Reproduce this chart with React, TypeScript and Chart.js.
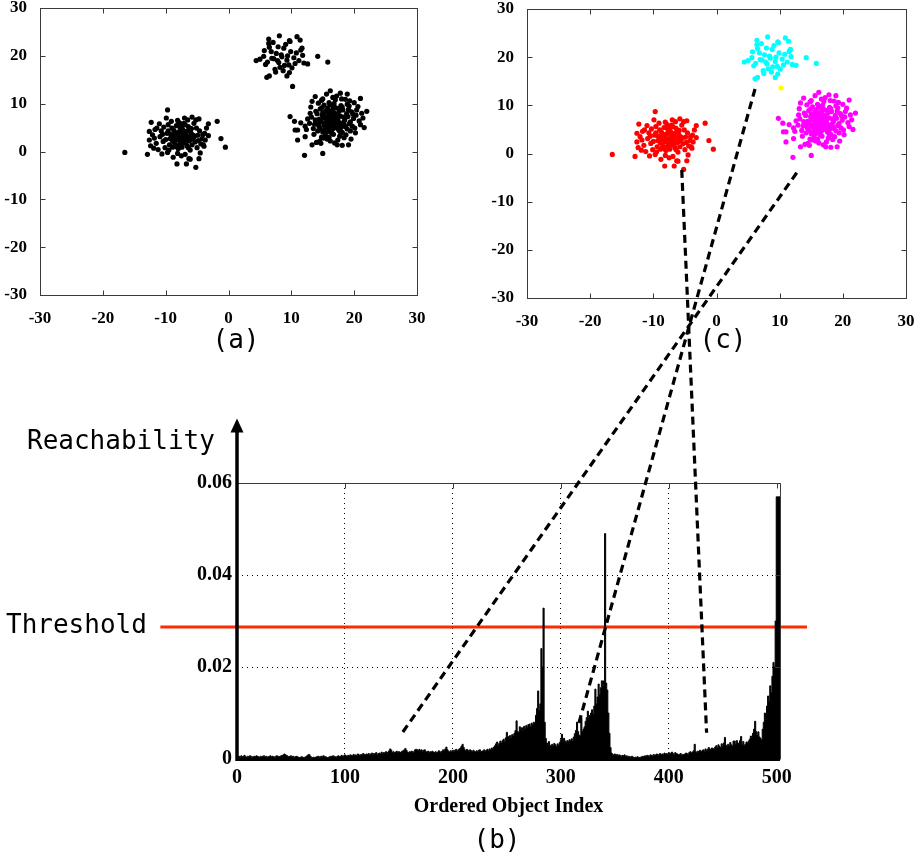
import React, { useEffect, useRef } from 'react';
import { Chart, registerables } from 'chart.js';

Chart.register(...registerables);

const PAGE_W = 917;
const PAGE_H = 861;

// ---------- scatter data (a) / (c) ----------
const redCluster: number[][] = [
  [-7.5,3.0],[-8.2,2.4],[-6.8,3.6],[-7.9,4.1],[-6.3,2.2],[-8.8,3.3],[-7.1,1.8],[-6.0,3.9],[-9.3,2.7],[-7.7,5.0],
  [-5.6,2.9],[-8.5,1.5],[-7.3,4.6],[-6.6,1.2],[-9.8,3.8],[-5.9,4.8],[-8.0,0.6],[-10.4,2.1],[-6.9,5.6],[-4.9,3.4],
  [-9.0,4.9],[-7.6,2.1],[-8.4,3.9],[-6.2,3.1],[-7.0,2.7],[-10.9,3.1],[-5.3,2.0],[-8.9,0.9],[-6.4,5.2],[-7.8,6.0],
  [-11.5,1.7],[-4.6,4.3],[-9.6,5.6],[-5.5,5.9],[-8.1,-0.4],[-6.1,0.3],[-10.1,0.8],[-4.4,1.6],[-9.4,1.4],[-7.2,3.4],
  [-8.6,2.9],[-6.7,4.2],[-7.4,0.9],[-5.8,1.4],[-10.7,4.3],[-11.8,2.8],[-4.2,2.7],[-9.1,6.3],[-6.5,6.6],[-7.9,1.3],
  [-8.3,5.4],[-5.1,4.9],[-10.3,5.1],[-3.8,3.8],[-11.2,0.4],[-6.9,-0.6],[-9.7,-0.2],[-5.0,0.8],[-8.7,4.4],[-7.1,5.9],
  [-6.0,2.5],[-8.0,3.5],[-7.3,2.5],[-6.8,1.9],[-9.2,3.6],[-7.6,4.3],[-5.7,3.5],[-8.6,2.0],[-10.0,2.5],[-4.8,2.3],
  [-12.1,3.5],[-12.4,1.2],[-11.0,5.8],[-3.5,4.9],[-3.9,1.1],[-9.9,7.0],[-7.0,7.0],[-5.2,6.6],[-8.8,-1.2],[-6.3,-1.5],
  [-7.5,-0.9],[-10.6,-0.5],[-4.5,-0.3],[-11.7,4.6],[-9.5,0.3],[-6.6,3.0],[-7.9,2.8],[-8.3,1.0],[-5.4,3.2],[-7.2,4.0],
  [-6.1,4.5],[-8.9,2.2],[-7.7,1.6],[-9.6,4.3],[-5.9,2.6],[-10.5,3.6],[-4.1,3.5],[-6.4,0.8],[-8.1,6.5],[-7.4,5.3],
  [-16.5,-0.2],[-12.9,-0.6],[-12.3,6.1],[-9.7,8.7],[-1.8,6.3],[-1.2,2.7],[-0.5,0.9],[-5.2,-3.3],[-6.7,-2.6],[-8.2,-2.6],
  [-4.7,-1.5],[-6.1,-1.6],[-3.2,5.8],[-3.2,3.3],[-4.7,6.8],[-5.8,7.2],[-12.6,2.4],[-12.6,4.2],[-11.4,4.9],[-11.9,0.7],
  [-4.0,1.4],[-3.7,2.4]
];

const cyanCluster: number[][] = [
  [8.5,19.8],[7.6,20.5],[9.3,19.1],[8.0,18.6],[9.9,20.9],[7.2,19.4],[8.8,21.6],[10.4,19.6],[6.8,20.9],[9.6,18.1],
  [8.2,17.6],[7.9,21.9],[10.8,20.6],[6.2,18.7],[9.1,22.4],[11.2,19.0],[7.4,17.2],[8.7,16.9],[10.1,17.5],[5.6,19.9],
  [6.5,21.8],[9.8,23.0],[11.5,21.2],[7.1,22.8],[8.4,20.2],[9.4,20.0],[7.8,19.0],[10.6,18.4],[5.9,18.2],[11.8,20.1],
  [8.9,18.0],[7.5,16.6],[9.7,16.5],
  [4.4,19.0],[5.0,19.3],[6.1,15.5],[6.5,15.8],[6.4,23.5],[6.4,22.6],[8.1,24.2],[9.7,23.2],[10.9,24.0],[11.4,23.3],
  [11.7,21.6],[12.0,18.5],[12.6,18.3],[14.2,19.9],[15.8,18.7],[9.3,15.8],[5.7,21.1],[6.9,19.5]
];

const yellowNoise: number[][] = [[10.2,13.6]];

const magentaCluster: number[][] = [
  [16.5,6.3],[15.8,7.1],[17.2,5.6],[16.1,5.2],[17.8,7.4],[15.3,6.0],[16.9,8.0],[18.3,6.1],[14.9,7.6],[17.5,4.7],
  [16.3,4.2],[15.6,8.6],[18.8,7.9],[14.4,5.3],[17.1,9.1],[19.2,5.8],[15.0,4.1],[16.7,3.6],[18.1,4.0],[13.8,6.6],
  [14.6,8.9],[17.9,9.6],[19.6,8.3],[15.2,9.7],[16.4,7.5],[17.4,6.8],[15.9,5.7],[18.6,5.2],[13.5,4.8],[19.9,6.9],
  [16.8,4.9],[15.4,3.3],[17.7,3.2],[14.1,7.9],[18.9,9.9],[16.0,10.2],[20.3,7.6],[13.2,7.2],[17.0,10.8],[19.4,4.3],
  [15.7,2.6],[18.4,2.9],[14.8,3.0],[20.6,9.4],[12.9,5.9],[16.6,11.3],[18.0,11.0],[14.3,10.1],[20.1,4.9],[13.6,3.6],
  [16.2,6.8],[17.3,7.7],[15.5,5.0],[18.5,6.6],[16.9,5.4],[15.1,7.0],[17.6,8.4],[16.4,3.9],[14.7,6.2],[19.0,7.3],
  [17.0,6.0],[16.0,7.9],[15.9,4.6],[18.2,8.7],[14.2,4.3],[19.7,5.3],[16.7,9.4],[15.3,8.2],[17.9,5.0],[13.9,8.4],
  [20.8,6.4],[12.6,6.8],[17.4,2.4],[15.0,11.0],[19.3,10.6],[16.2,2.2],[21.2,8.0],[13.1,9.3],[18.7,3.5],[14.5,2.1],
  [16.6,5.9],[17.1,6.6],[15.7,6.5],[16.3,8.4],[18.0,5.8],[15.2,5.5],[17.6,4.4],[14.9,9.2],[19.1,8.8],[16.8,10.0],
  [20.0,10.2],[12.4,4.6],[13.3,10.5],[21.0,5.6],[18.6,10.9],[15.6,12.0],[17.8,12.2],[19.5,2.6],[14.0,1.9],[16.9,1.8],
  [16.1,6.1],[17.3,5.3],[15.4,7.3],[18.3,7.2],[16.5,4.6],[14.6,4.8],[17.7,9.0],[15.8,9.1],[19.4,6.2],[13.7,5.7],
  [16.4,5.5],[17.0,7.2],[15.9,6.9],[16.7,6.8],[17.5,6.2],[15.6,4.0],[18.1,9.3],[14.4,6.7],[19.8,7.8],[16.2,9.8],
  [20.4,8.7],[13.0,8.0],[21.4,7.0],[12.2,5.3],[18.9,4.7],[15.1,2.8],[17.2,11.6],[14.8,10.7],[20.2,3.9],[16.0,3.0],
  [16.3,7.0],[17.6,5.8],[15.3,4.5],[18.4,5.5],[16.8,7.6],[15.0,8.1],[19.2,9.5],[14.1,5.9],[17.9,3.8],[16.6,8.8],
  [9.8,7.3],[10.5,6.3],[12.1,-0.8],[15.0,-0.4],[13.3,1.4],[14.7,1.7],[16.2,12.7],[22.0,8.4],[21.6,5.0],[19.1,1.4],
  [17.3,1.4],[18.1,1.3],[13.8,11.5],[18.9,12.0],[21.0,11.1],[11.0,2.4],[11.0,4.5],[12.2,3.1],[10.6,4.5],[11.5,6.0]
];

const scatterTicks = [-30, -20, -10, 0, 10, 20, 30];

// ---------- reachability plot (b), values in units of 0.001 ----------
const reachabilityMilli: number[] = [
  0.5,0.6,0.4,0.7,0.5,0.6,0.8,0.5,0.4,0.6,0.5,0.7,0.6,0.4,0.5,0.6,0.5,0.7,0.6,0.5,
  0.4,0.6,0.5,0.6,0.7,0.5,0.6,0.4,0.5,0.6,0.7,0.5,0.6,0.5,0.4,0.6,0.7,0.6,0.5,0.6,
  0.7,0.8,0.9,1.1,0.9,0.8,0.6,0.5,0.6,0.7,0.5,0.6,0.4,0.5,0.6,0.5,0.4,0.3,0.4,0.5,
  0.4,0.3,0.4,0.5,0.7,0.9,1.0,0.6,0.4,0.3,0.4,0.3,0.4,0.5,0.6,0.5,0.4,0.6,0.5,0.7,
  0.6,0.5,0.4,0.3,0.4,0.5,0.6,0.5,0.7,0.6,0.5,0.4,0.6,0.7,0.5,0.6,0.8,0.6,0.7,0.9,
  0.7,0.6,0.8,0.7,0.9,0.8,0.7,1.0,0.8,0.9,0.7,1.1,0.9,0.8,1.0,0.9,1.2,1.0,0.9,1.1,
  1.0,1.2,0.9,1.1,1.3,1.0,1.2,1.1,1.4,1.0,1.2,1.3,1.1,1.5,1.2,1.4,1.3,1.6,1.2,1.5,
  1.8,2.2,1.9,1.4,1.6,1.3,1.5,1.7,1.4,1.6,1.5,1.3,1.7,1.8,2.0,2.3,1.9,1.5,1.4,1.6,
  1.5,1.7,1.4,1.6,2.0,2.1,2.0,1.9,2.1,1.8,2.0,1.7,1.9,2.0,1.6,1.5,1.7,1.4,1.6,1.5,
  1.7,1.5,1.4,1.6,1.3,1.5,1.8,1.6,1.4,1.7,2.0,1.8,2.2,2.6,2.0,1.7,1.5,1.8,1.6,1.9,
  1.7,1.9,2.1,1.8,2.0,2.2,2.4,2.8,3.2,2.5,2.0,1.8,2.1,1.9,1.7,2.0,1.8,1.6,1.9,1.7,
  1.5,1.8,1.6,1.9,2.0,1.7,1.5,1.8,2.0,1.7,1.9,2.1,1.8,2.2,2.0,2.4,2.3,2.6,2.9,3.3,
  3.7,3.0,3.4,3.9,3.5,4.0,4.3,3.8,4.6,5.8,4.9,4.4,5.1,4.7,5.3,5.0,5.6,6.2,8.3,6.0,
  5.8,7.0,6.4,6.8,6.2,7.1,6.5,7.3,6.9,7.5,7.6,7.0,7.8,7.4,8.0,7.6,9.5,11.0,14.8,10.6,
  12.0,24.0,20.0,32.8,8.0,4.5,3.5,3.2,3.8,3.0,2.8,3.2,2.9,3.4,3.1,2.7,3.3,3.0,3.6,4.2,
  5.4,3.8,4.5,3.9,3.6,4.0,3.7,4.2,3.9,4.4,4.1,4.8,5.5,6.2,8.0,6.0,5.2,5.0,9.0,6.0,
  6.5,7.0,8.2,9.0,10.4,8.8,9.5,10.0,10.7,9.8,11.5,15.2,12.0,13.5,16.3,14.0,15.5,17.0,16.0,17.0,
  49.0,16.5,15.0,10.0,5.6,2.5,1.3,1.0,0.9,1.1,0.8,1.0,0.7,0.9,0.8,0.6,0.8,0.7,0.9,0.6,
  0.7,0.5,0.6,0.4,0.5,0.6,0.4,0.3,0.4,0.3,0.5,0.4,0.3,0.4,0.5,0.6,0.5,0.7,0.6,0.8,
  0.7,0.6,0.9,0.8,0.7,1.0,0.8,0.9,1.1,0.8,1.0,1.2,0.9,1.1,1.0,1.3,1.1,1.2,1.0,1.4,
  1.1,1.3,1.5,1.2,1.0,1.4,1.2,1.1,0.9,1.0,1.2,0.8,1.0,0.9,1.1,1.3,1.2,1.0,1.4,1.6,
  1.3,1.5,1.8,3.2,1.6,1.4,1.7,1.5,1.9,1.6,1.8,2.0,1.7,2.2,1.9,2.1,2.5,2.2,2.0,2.4,
  2.3,2.1,2.6,2.9,2.4,3.1,2.7,2.5,3.3,2.8,3.5,4.7,3.0,2.6,3.2,2.9,3.6,3.1,2.8,3.9,
  3.9,3.2,4.0,3.5,3.3,4.0,4.9,3.1,3.8,3.0,3.2,3.7,3.5,3.9,4.3,5.0,4.6,5.6,6.5,8.2,
  6.0,5.2,5.9,4.8,4.5,4.2,6.5,8.0,10.0,8.5,11.5,13.7,12.5,15.9,14.5,18.0,21.0,20.0,30.0,57.0,
  57.0,57.0,57.0
];

const reachTicks = [0, 20, 40, 60];
const indexTicks = [0, 100, 200, 300, 400, 500];
const thresholdMilli = 28.7;
const thresholdSpan = [-71, 528];
const arrowTipMilli = 74;

// connectors: from (c) data coordinates to (b) data coordinates
const linkFromC: number[][] = [[-5.5, -3.4], [6.1, 13.4], [12.7, -4.0]];
const linkToB: number[][] = [[435, 5.7], [316, 7.2], [151, 5.0]];

const SERIF = '"Liberation Serif", "Times New Roman", serif';
const MONO = '"DejaVu Sans Mono", monospace';

const fixY = (w: number) => (s: any) => {
  s.width = w;
  s.paddingTop = 0; s.paddingBottom = 0; s.paddingLeft = 0; s.paddingRight = 0;
};
const fixX = (h: number) => (s: any) => {
  s.height = h;
  s.paddingTop = 0; s.paddingBottom = 0; s.paddingLeft = 0; s.paddingRight = 0;
};

const px = (v: number) => Math.round(v) + 0.5;

const scatterFrame = {
  id: 'scatterFrame',
  afterDraw(chart: any) {
    const { ctx, chartArea: ca, scales } = chart;
    const l = px(ca.left), r = px(ca.right), t = px(ca.top), b = px(ca.bottom);
    ctx.save();
    ctx.strokeStyle = '#3a3a3a';
    ctx.lineWidth = 1;
    ctx.strokeRect(l, t, r - l, b - t);
    ctx.beginPath();
    for (const v of scatterTicks) {
      const x = px(scales.x.getPixelForValue(v));
      ctx.moveTo(x, b); ctx.lineTo(x, b - 5);
      ctx.moveTo(x, t); ctx.lineTo(x, t + 5);
      const y = px(scales.y.getPixelForValue(v));
      ctx.moveTo(l, y); ctx.lineTo(l + 5, y);
      ctx.moveTo(r, y); ctx.lineTo(r - 5, y);
    }
    ctx.stroke();
    ctx.restore();
  }
};

function scatterConfig(datasets: any[], padding: any) {
  const tickFont = { family: SERIF, weight: 'bold' as const, size: 17 };
  return {
    type: 'scatter' as const,
    data: { datasets },
    options: {
      animation: false as const,
      responsive: false,
      events: [] as any[],
      layout: { padding },
      plugins: { legend: { display: false }, tooltip: { enabled: false } },
      scales: {
        x: {
          type: 'linear' as const, min: -30, max: 30,
          afterBuildTicks: (s: any) => { s.ticks = scatterTicks.map((v) => ({ value: v })); },
          grid: { display: false }, border: { display: false },
          ticks: { font: tickFont, color: '#000', padding: 5, maxRotation: 0, autoSkip: false },
          afterFit: fixX(30)
        },
        y: {
          type: 'linear' as const, min: -30, max: 30,
          afterBuildTicks: (s: any) => { s.ticks = scatterTicks.map((v) => ({ value: v })); },
          grid: { display: false }, border: { display: false },
          ticks: { font: tickFont, color: '#000', padding: 5, autoSkip: false },
          afterFit: fixY(40)
        }
      }
    },
    plugins: [scatterFrame]
  };
}

const toPts = (arr: number[][]) => arr.map(([x, y]) => ({ x, y }));
const scatterSet = (arr: number[][], color: string) => ({
  data: toPts(arr),
  backgroundColor: color,
  borderWidth: 0,
  pointRadius: 2.6
});

export default function App() {
  const aRef = useRef<HTMLCanvasElement>(null);
  const cRef = useRef<HTMLCanvasElement>(null);
  const bRef = useRef<HTMLCanvasElement>(null);

  useEffect(() => {
    const chartA = new Chart(aRef.current as HTMLCanvasElement, scatterConfig([
      scatterSet(redCluster, '#000'),
      scatterSet(cyanCluster, '#000'),
      scatterSet(magentaCluster, '#000'),
      scatterSet(yellowNoise, '#000')
    ], { left: 0, top: 8, right: PAGE_W - 417, bottom: PAGE_H - 295 - 30 }) as any);

    const chartC = new Chart(cRef.current as HTMLCanvasElement, scatterConfig([
      scatterSet(redCluster, '#ff0000'),
      scatterSet(cyanCluster, '#00ffff'),
      scatterSet(magentaCluster, '#ff00ff'),
      scatterSet(yellowNoise, '#ffff00')
    ], { left: 527 - 40, top: 9, right: PAGE_W - 906, bottom: PAGE_H - 298 - 30 }) as any);

    const reachDecor = {
      id: 'reachDecor',
      afterDraw(chart: any) {
        const { ctx, chartArea: ca, scales: { x, y } } = chart;
        const l = px(ca.left), r = px(ca.right), t = px(ca.top), b = Math.round(ca.bottom);
        ctx.save();
        // thin frame on top / right with inward ticks
        ctx.strokeStyle = '#3a3a3a';
        ctx.lineWidth = 1;
        ctx.beginPath();
        ctx.moveTo(l, t); ctx.lineTo(r, t); ctx.lineTo(r, b);
        for (const v of indexTicks) {
          const xx = px(x.getPixelForValue(v));
          ctx.moveTo(xx, t); ctx.lineTo(xx, t + 5);
        }
        for (const v of reachTicks) {
          const yy = px(y.getPixelForValue(v));
          ctx.moveTo(r, yy); ctx.lineTo(r - 5, yy);
        }
        ctx.stroke();
        // bottom axis
        ctx.strokeStyle = '#000';
        ctx.lineWidth = 2;
        ctx.beginPath();
        ctx.moveTo(ca.left, b + 1); ctx.lineTo(ca.right, b + 1);
        ctx.stroke();
        // left axis with arrow
        const tipY = y.getPixelForValue(arrowTipMilli);
        const ax = ca.left;
        ctx.lineWidth = 3.5;
        ctx.beginPath();
        ctx.moveTo(ax, b + 2); ctx.lineTo(ax, tipY + 12);
        ctx.stroke();
        ctx.fillStyle = '#000';
        ctx.beginPath();
        ctx.moveTo(ax, tipY);
        ctx.lineTo(ax - 6.5, tipY + 14);
        ctx.lineTo(ax + 6.5, tipY + 14);
        ctx.closePath();
        ctx.fill();
        // dashed connectors from clusters in (c) to the reachability plot
        ctx.setLineDash([8, 5]);
        ctx.lineWidth = 3.2;
        ctx.strokeStyle = '#000';
        for (let i = 0; i < linkFromC.length; i++) {
          const x1 = chartC.scales.x.getPixelForValue(linkFromC[i][0]);
          const y1 = chartC.scales.y.getPixelForValue(linkFromC[i][1]);
          const x2 = x.getPixelForValue(linkToB[i][0]);
          const y2 = y.getPixelForValue(linkToB[i][1]);
          ctx.beginPath();
          ctx.moveTo(x1, y1); ctx.lineTo(x2, y2);
          ctx.stroke();
        }
        ctx.restore();
      }
    };

    const tickFontB = { family: SERIF, weight: 'bold' as const, size: 20 };
    const chartB = new Chart(bRef.current as HTMLCanvasElement, {
      type: 'line',
      data: {
        datasets: [
          {
            data: reachabilityMilli.map((v, i) => ({ x: i + 1, y: v })),
            borderColor: '#000',
            backgroundColor: '#000',
            borderWidth: 1,
            fill: 'origin',
            stepped: 'middle',
            pointRadius: 0,
            order: 1
          },
          {
            data: thresholdSpan.map((xv) => ({ x: xv, y: thresholdMilli })),
            borderColor: '#ff2a00',
            borderWidth: 3,
            pointRadius: 0,
            fill: false,
            clip: false,
            order: 2
          }
        ]
      } as any,
      options: {
        animation: false,
        responsive: false,
        events: [],
        layout: { padding: { left: 237 - 45, top: 483, right: PAGE_W - 780, bottom: PAGE_H - 759 - 60 } },
        plugins: { legend: { display: false }, tooltip: { enabled: false } },
        scales: {
          x: {
            type: 'linear', min: 0, max: 503,
            afterBuildTicks: (s: any) => { s.ticks = indexTicks.map((v) => ({ value: v })); },
            grid: {
              drawTicks: false,
              color: (c: any) => (c.tick && (c.tick.value === 0 || c.tick.value === 500) ? 'rgba(0,0,0,0)' : '#000'),
              lineWidth: 1
            },
            border: { display: false, dash: [1, 4] },
            ticks: { font: tickFontB, color: '#000', padding: 7, maxRotation: 0, autoSkip: false },
            title: {
              display: true, text: 'Ordered Object Index', color: '#000',
              font: { family: SERIF, weight: 'bold', size: 20 },
              padding: { top: 0, bottom: 0 }
            },
            afterFit: fixX(60)
          },
          y: {
            type: 'linear', min: 0, max: 60,
            afterBuildTicks: (s: any) => { s.ticks = reachTicks.map((v) => ({ value: v })); },
            grid: {
              drawTicks: false,
              color: (c: any) => (c.tick && (c.tick.value === 0 || c.tick.value === 60) ? 'rgba(0,0,0,0)' : '#000'),
              lineWidth: 1
            },
            border: { display: false, dash: [1, 4] },
            ticks: {
              font: tickFontB, color: '#000', padding: 5, autoSkip: false,
              callback: (v: any) => (v === 0 ? '0' : (Number(v) / 1000).toFixed(2))
            },
            afterFit: fixY(45)
          }
        }
      } as any,
      plugins: [reachDecor]
    });

    return () => {
      chartB.destroy();
      chartC.destroy();
      chartA.destroy();
    };
  }, []);

  const canvasStyle: React.CSSProperties = {
    position: 'absolute', left: 0, top: 0, width: PAGE_W, height: PAGE_H
  };
  const label = (text: string, left: number, top: number, width?: number): React.ReactNode => (
    <div
      style={{
        position: 'absolute', left, top, width,
        textAlign: width ? 'center' : 'left',
        fontFamily: MONO, fontSize: 26, lineHeight: '30px', color: '#000', whiteSpace: 'nowrap'
      }}
    >
      {text}
    </div>
  );

  return (
    <div style={{ position: 'absolute', left: 0, top: 0, width: PAGE_W, height: PAGE_H, background: '#fff', overflow: 'hidden' }}>
      <canvas ref={aRef} width={PAGE_W} height={PAGE_H} style={canvasStyle} />
      <canvas ref={cRef} width={PAGE_W} height={PAGE_H} style={canvasStyle} />
      <canvas ref={bRef} width={PAGE_W} height={PAGE_H} style={canvasStyle} />
      {label('(a)', 186, 324, 100)}
      {label('(c)', 673, 324, 100)}
      {label('(b)', 447, 824, 100)}
      {label('Reachability', 27, 425)}
      {label('Threshold', 6, 609)}
    </div>
  );
}
